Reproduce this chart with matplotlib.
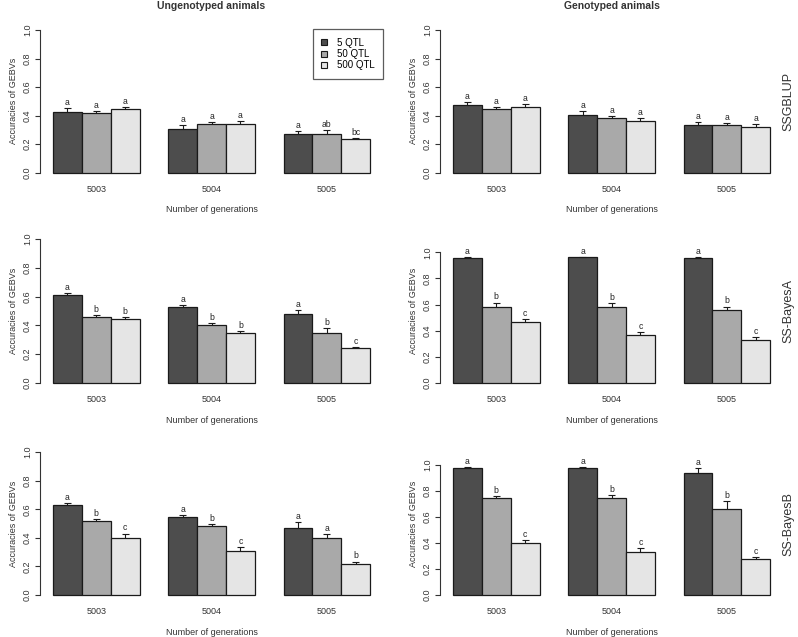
import matplotlib
matplotlib.use('Agg')
import matplotlib.pyplot as plt
from matplotlib.patches import Patch
import numpy as np

plt.rcParams['font.family'] = ['Liberation Sans', 'DejaVu Sans']

# Data
generations = ['5003', '5004', '5005']
qtl_labels = ['5 QTL', '50 QTL', '500 QTL']
methods = ['SSGBLUP', 'SS-BayesA', 'SS-BayesB']
columns = ['Ungenotyped animals', 'Genotyped animals']

# accuracies, rows = generation, cols = QTL number
ung_ssgblup = [[0.423, 0.416, 0.444], [0.306, 0.341, 0.341], [0.273, 0.273, 0.236]]
ung_ssgblup_se = [[0.028, 0.016, 0.019], [0.028, 0.012, 0.019], [0.017, 0.026, 0.007]]
ung_ssgblup_let = [['a', 'a', 'a'], ['a', 'a', 'a'], ['a', 'ab', 'bc']]

gen_ssgblup = [[0.474, 0.446, 0.463], [0.407, 0.386, 0.362], [0.332, 0.334, 0.320]]
gen_ssgblup_se = [[0.024, 0.017, 0.016], [0.025, 0.011, 0.019], [0.025, 0.016, 0.021]]
gen_ssgblup_let = [['a', 'a', 'a'], ['a', 'a', 'a'], ['a', 'a', 'a']]

ung_bayesa = [[0.609, 0.456, 0.444], [0.528, 0.400, 0.345], [0.481, 0.350, 0.241]]
ung_bayesa_se = [[0.014, 0.016, 0.017], [0.011, 0.017, 0.018], [0.026, 0.030, 0.007]]
ung_bayesa_let = [['a', 'b', 'b'], ['a', 'b', 'b'], ['a', 'b', 'c']]

gen_bayesa = [[0.956, 0.585, 0.469], [0.962, 0.579, 0.369], [0.956, 0.556, 0.328]]
gen_bayesa_se = [[0.006, 0.030, 0.021], [0.005, 0.031, 0.021], [0.006, 0.029, 0.026]]
gen_bayesa_let = [['a', 'b', 'c'], ['a', 'b', 'c'], ['a', 'b', 'c']]

ung_bayesb = [[0.631, 0.514, 0.397], [0.547, 0.481, 0.306], [0.467, 0.400, 0.217]]
ung_bayesb_se = [[0.014, 0.016, 0.033], [0.011, 0.017, 0.030], [0.042, 0.025, 0.017]]
ung_bayesb_let = [['a', 'b', 'c'], ['a', 'b', 'c'], ['a', 'a', 'b']]

gen_bayesb = [[0.979, 0.744, 0.397], [0.979, 0.749, 0.331], [0.936, 0.659, 0.274]]
gen_bayesb_se = [[0.006, 0.018, 0.029], [0.002, 0.018, 0.028], [0.043, 0.067, 0.021]]
gen_bayesb_let = [['a', 'b', 'c'], ['a', 'b', 'c'], ['a', 'b', 'c']]

panels = [
    [(ung_ssgblup, ung_ssgblup_se, ung_ssgblup_let, 1.0),
     (gen_ssgblup, gen_ssgblup_se, gen_ssgblup_let, 1.0)],
    [(ung_bayesa, ung_bayesa_se, ung_bayesa_let, 1.0),
     (gen_bayesa, gen_bayesa_se, gen_bayesa_let, 1.1)],
    [(ung_bayesb, ung_bayesb_se, ung_bayesb_let, 1.0),
     (gen_bayesb, gen_bayesb_se, gen_bayesb_let, 1.1)],
]

bar_colors = ['#4d4d4d', '#a9a9a9', '#e5e5e5']
edge = '#1a1a1a'

W, H = 798, 637
fig = plt.figure(figsize=(W / 100, H / 100), dpi=100)

col_x = [(40.4, 382.7), (440.4, 782.7)]
row_y = [(24.3, 178.4), (233.5, 388.7), (446.3, 600.7)]

for r, row in enumerate(panels):
    for c, (vals, ses, lets, ytop) in enumerate(row):
        x0, x1 = col_x[c]
        t, b = row_y[r]
        ax = fig.add_axes([x0 / W, 1 - b / H, (x1 - x0) / W, (b - t) / H])
        vals = np.array(vals)
        ses = np.array(ses)
        for g in range(3):
            for s in range(3):
                left = 1 + 4 * g + s
                ax.bar(left, vals[g, s], width=1, align='edge', color=bar_colors[s],
                       edgecolor=edge, linewidth=0.9)
                xc = left + 0.5
                top = vals[g, s] + ses[g, s]
                ax.vlines(xc, vals[g, s], top, color=edge, lw=0.8)
                ax.hlines(top, xc - 0.12, xc + 0.12, color=edge, lw=0.8)
                ax.annotate(lets[g][s], (xc, top), xytext=(0, 0.8), textcoords='offset points',
                            ha='center', va='bottom', fontsize=6.2, color='#222222')
        ext = 0.04 * ytop
        ax.set_ylim(-ext, ytop + ext)
        ax.set_xlim(0.56, 12.44)
        for sp in ['top', 'right', 'bottom']:
            ax.spines[sp].set_visible(False)
        ax.spines['left'].set_bounds(0, 1)
        ax.spines['left'].set_color('#333333')
        ax.spines['left'].set_linewidth(0.8)
        ax.set_yticks(np.arange(0, 1.01, 0.2))
        ax.set_yticklabels(['%.1f' % v for v in np.arange(0, 1.01, 0.2)],
                           rotation=90, va='center', fontsize=6.5, color='#333333')
        ax.tick_params(axis='y', length=3.5, width=0.8, color='#333333', pad=2.5)
        ax.set_xticks([2.5, 6.5, 10.5])
        ax.set_xticklabels(generations, fontsize=6.5, color='#333333')
        ax.tick_params(axis='x', length=0, pad=4.5)
        ax.set_ylabel('Accuracies of GEBVs', fontsize=6.5, color='#333333', labelpad=4)
        ax.text(0.5, -31.6 / (b - t), 'Number of generations', transform=ax.transAxes,
                ha='center', va='center', fontsize=6.5, color='#333333')
        ax.patch.set_visible(False)
        if r == 0 and c == 0:
            handles = [Patch(facecolor=bar_colors[i], edgecolor=edge, linewidth=0.8)
                       for i in range(3)]
            leg = ax.legend(handles, qtl_labels, loc='upper right',
                            bbox_to_anchor=(1.0, 1 - 5 / (b - t)), borderaxespad=0,
                            fontsize=7, handlelength=0.6, handleheight=0.6,
                            handletextpad=1.0, labelspacing=0.15, borderpad=0.85,
                            fancybox=False, frameon=True)
            leg.get_frame().set_edgecolor('#333333')
            leg.get_frame().set_linewidth(0.9)
        if r == 0:
            fig.text((x0 + x1) / 2 / W, 1 - 6 / H, columns[c], ha='center', va='center',
                     fontsize=7.5, fontweight='bold', color='#333333')
    fig.text(788 / W, 1 - (row_y[r][0] + row_y[r][1]) / 2 / H, methods[r], rotation=90,
             ha='center', va='center', fontsize=9, color='#333333')

fig.savefig('out.png', dpi=100)
